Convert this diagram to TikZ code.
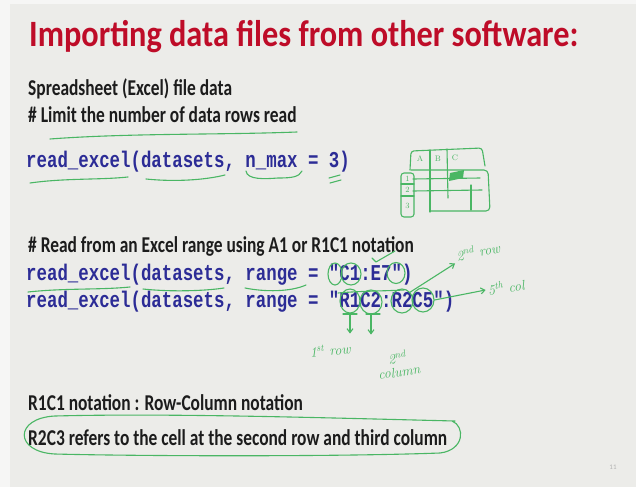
\documentclass[tikz,border=0pt]{standalone}
\usepackage{fontspec}
\newfontfamily\slidefont{Carlito}
\newfontfamily\codefont{Liberation Mono}
\usetikzlibrary{arrows.meta, shapes.geometric}

\definecolor{slidebg}{RGB}{236,236,233}
\definecolor{slidered}{RGB}{190,12,40}
\definecolor{codeblue}{RGB}{44,44,150}
\definecolor{slidetext}{RGB}{28,28,28}
\definecolor{inkgreen}{RGB}{74,182,100}

% slide text is a little taller than wide
\newcommand{\tallline}[1]{\scalebox{1}[1.3]{#1}}
\newcommand{\talltitle}[1]{\scalebox{1}[1.15]{#1}}

\begin{document}
\begin{tikzpicture}[
    x=1pt, y=-1pt,
    % --- SLIDE TEXT ---
    titletext/.style={
            anchor=base west,
            inner sep=0pt,
            text=slidered,
            font=\slidefont\bfseries\fontsize{32.3}{36}\selectfont
        },
    bodytext/.style={
            anchor=base west,
            inner sep=0pt,
            text=slidetext,
            font=\slidefont\bfseries\fontsize{17.4}{21}\selectfont
        },
    codeline/.style={
            anchor=base west,
            inner sep=0pt,
            text=codeblue,
            font=\codefont\bfseries\fontsize{17.4}{21}\selectfont
        },
    pagenum/.style={
            inner sep=0pt,
            text=black!30,
            font=\slidefont\fontsize{7}{7}\selectfont
        },
    % --- PEN STROKES ---
    ink/.style={
            draw=inkgreen,
            line width=1.1pt,
            line cap=round,
            line join=round
        },
    inkarrow/.style={
            ink,
            -{Straight Barb[length=4pt, width=6pt]}
        },
    inkring/.style={
            ellipse,
            draw=inkgreen,
            line width=1.1pt,
            inner sep=0pt
        },
    inknote/.style={
            inner sep=0pt,
            text=inkgreen,
            align=center,
            font=\itshape\fontsize{14}{14}\selectfont
        },
    gridlabel/.style={
            inner sep=0pt,
            text=inkgreen,
            font=\fontsize{8}{8}\selectfont
        }
    ]

    % --- SLIDE ---
    \useasboundingbox (0,0) rectangle (636,487);
    \fill[slidebg] (0,0) rectangle (636,487);
    \fill[white!55!slidebg] (0,0) rectangle (10,487);
    \fill[white!55!slidebg] (0,0) rectangle (636,4);

    \node[titletext] (title) at (29,46) {\talltitle{Importing data files from other software:}};
    \node[bodytext] (sheet) at (28,95) {\tallline{Spreadsheet (Excel) file data}};
    \node[bodytext] (limit) at (28,122) {\tallline{\# Limit the number of data rows read}};
    \node[codeline] (nmax) at (26,167) {\tallline{read\_excel(datasets, n\_max = 3)}};
    \node[bodytext] (rangenote) at (28,252) {\tallline{\# Read from an Excel range using A1 or R1C1 notation}};
    \node[codeline] (rangeA) at (26,280) {\tallline{read\_excel(datasets, range = "C1:E7")}};
    \node[codeline] (rangeB) at (26,307) {\tallline{read\_excel(datasets, range = "R1C2:R2C5")}};
    \node[bodytext] (rcnote) at (28,410) {\tallline{R1C1 notation : Row-Column notation}};
    \node[bodytext] (rcexample) at (28,445) {\tallline{R2C3 refers to the cell at the second row and third column}};
    \node[pagenum] (page) at (613,467) {11};

    % --- UNDERLINES ---
    \draw[ink] (50,139) .. controls (130,133) and (220,135) .. (297,132);
    \draw[ink] (30,183) .. controls (65,178) and (100,180) .. (128,177);
    \draw[ink] (146,179) .. controls (175,182) and (205,180) .. (225,175);
    \draw[ink] (246,171) .. controls (247,180) and (265,179) .. (278,178)
        .. controls (292,178) and (299,177) .. (302,171);
    \draw[ink] (329,178) -- (340,175);
    \draw[ink] (330,183) -- (341,180);

    \draw[ink] (28,292) .. controls (65,288) and (100,290) .. (130,287);
    \draw[ink] (143,289) .. controls (170,292) and (205,291) .. (224,288);
    \draw[ink] (245,288) .. controls (265,292) and (290,292) .. (306,285);
    \draw[ink] (338,293) .. controls (360,291) and (385,291) .. (404,290);

    % --- SPREADSHEET SKETCH ---
    \draw[ink, rounded corners=3pt] (410,170) -- (411,151) -- (482,148) -- (485,166);
    \draw[ink] (430,150) -- (430,212);
    \draw[ink] (447,149) -- (448,198);
    \draw[ink, rounded corners=4pt] (411,170) -- (488,170) -- (490,211) -- (430,211);
    \draw[ink] (413,179) -- (480,178);
    \draw[ink] (413,191) -- (482,190);
    \draw[ink] (471,185) -- (471,210);
    \draw[ink, rounded corners=3pt] (401,173) rectangle (414,217);
    \draw[ink] (401,184) -- (414,184);
    \draw[ink] (401,196) -- (414,196);
    \fill[inkgreen] (450,173) -- (464,170) -- (463,178) -- (449,181) -- cycle;
    \node[gridlabel] (colA) at (420,159) {A};
    \node[gridlabel] (colB) at (438,159) {B};
    \node[gridlabel] (colC) at (455,158) {C};
    \node[gridlabel] (rowA) at (407.5,179) {1};
    \node[gridlabel] (rowB) at (407.5,190) {2};
    \node[gridlabel] (rowC) at (407.5,206) {3};

    % --- MARKS ON "C1:E7" ---
    \node[inkring, minimum width=14pt, minimum height=22pt] (ringQ) at (335,274) {};
    \node[inkring, minimum width=20pt, minimum height=22pt] (ringCone) at (351,274) {};
    \node[inkring, minimum width=18pt, minimum height=21pt] (ringE) at (396,273) {};
    \draw[ink] (372,258) -- (376,262) -- (395,251);

    % --- MARKS ON "R1C2:R2C5" ---
    \node[inkring, minimum width=20pt, minimum height=24pt] (ringRone) at (350,301) {};
    \node[inkring, minimum width=22pt, minimum height=24pt] (ringCtwo) at (371,302) {};
    \node[inkring, minimum width=22pt, minimum height=24pt] (ringRtwo) at (402,301) {};
    \node[inkring, minimum width=22pt, minimum height=24pt] (ringCfive) at (423,300) {};

    \node[inknote, rotate=12] (rowtwo) at (478,251) {2\textsuperscript{nd} row};
    \node[inknote, rotate=8] (colfive) at (506,287) {5\textsuperscript{th} col};
    \node[inknote, rotate=6] (rowone) at (330,350) {1\textsuperscript{st} row};
    \node[inknote, rotate=8] (coltwo) at (398,364) {2\textsuperscript{nd}\\column};

    \draw[inkarrow, shorten >=3pt] (ringRtwo.north east) -- (rowtwo.south west);
    \draw[inkarrow, shorten >=2pt] (ringCfive.east) -- (colfive.west);
    \draw[ink] (343,314) -- (357,314);
    \draw[inkarrow] (ringRone.south) -- ++(0,20);
    \draw[ink] (366,314) -- (380,314);
    \draw[inkarrow] (ringCtwo.south) -- ++(0,20);

    % --- RING ROUND THE EXAMPLE ---
    \draw[ink] (452,421) .. controls (465,426) and (465,450) .. (440,453)
        .. controls (330,457) and (130,456) .. (55,454)
        .. controls (14,452) and (14,418) .. (55,416)
        .. controls (170,413) and (330,418) .. (455,421);

\end{tikzpicture}
\end{document}
